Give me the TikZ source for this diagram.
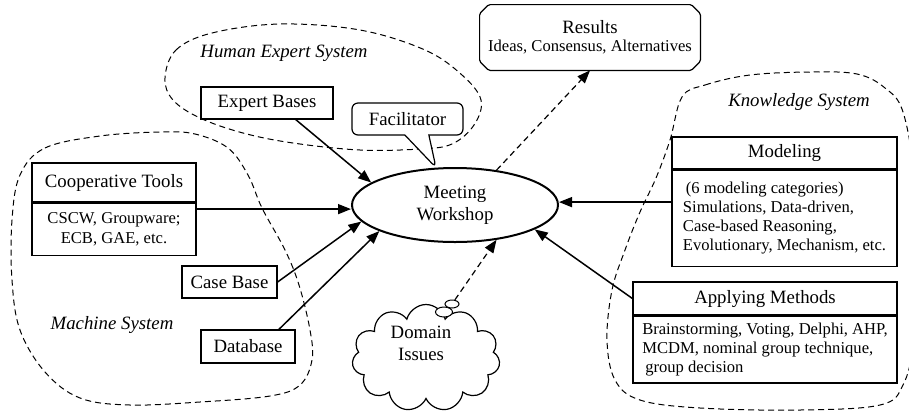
\documentclass[tikz,border=0pt]{standalone}
\usepackage{fontspec}
\setmainfont{Liberation Serif}
\usetikzlibrary{positioning,calc,arrows.meta,shapes.geometric,shapes.callouts,shapes.symbols}

\newcommand{\TitleFont}{\rmfamily\fontsize{9.4}{11}\selectfont}
\newcommand{\BodyFont}{\rmfamily\fontsize{8.3}{9.6}\selectfont}

\tikzstyle{TitleBox}=[rectangle, draw, fill=white, line width=0.6pt, font=\TitleFont, align=center]
\tikzstyle{BodyBox}=[rectangle, draw, fill=white, line width=0.6pt, font=\BodyFont, align=left]
\tikzstyle{MeetingNode}=[ellipse, draw, fill=white, line width=1pt, font=\TitleFont, align=center, minimum width=103pt, minimum height=37pt, inner sep=0pt]
\tikzstyle{SystemLabel}=[font=\TitleFont\itshape]
\tikzstyle{SystemLine}=[dash pattern=on 3pt off 2pt, line width=0.5pt]
\tikzstyle{Flecha}=[-{Triangle[length=6.5pt,width=5pt]}, line width=0.75pt]
\tikzstyle{FlechaDashed}=[Flecha, dash pattern=on 3pt off 2pt, line width=0.6pt]

\begin{document}
\begin{tikzpicture}[x=0.5pt, y=-0.5pt]
			\useasboundingbox (0,0) rectangle (909,414);

			%Sistemas
			\draw[SystemLine] plot[smooth cycle, tension=0.6] coordinates {(165,78) (176,50) (212,33) (280,24) (360,30) (425,50) (462,75) (481,100) (474,125) (452,144) (420,149) (360,150) (293,143) (243,133) (200,118) (173,100)};
			\draw[SystemLine] plot[smooth cycle, tension=0.6] coordinates {(20,175) (45,148) (100,136) (160,132) (195,134) (228,148) (248,175) (262,208) (285,250) (299,285) (310,330) (312,360) (300,385) (270,396) (200,402) (130,405) (80,398) (45,372) (20,330) (12,280) (12,220)};
			\draw[SystemLine] plot[smooth cycle, tension=0.6] coordinates {(682,97) (705,85) (750,75) (810,72) (857,74) (885,88) (903,112) (915,180) (918,260) (914,340) (903,385) (880,405) (800,410) (700,408) (640,400) (615,380) (607,340) (612,290) (625,250) (640,212) (656,178) (670,140)};

			\node[SystemLabel]	(hes_lbl)		at (284,53)		{Human Expert System};
			\node[SystemLabel]	(ms_lbl)		at (112,325)	{Machine System};
			\node[SystemLabel]	(ks_lbl)		at (799,102)	{Knowledge System};

			%Nodos
			\node[MeetingNode]	(mw)			at (455,205)	{Meeting\\Workshop};

			\node[minimum width=110pt, minimum height=32.5pt, align=center, font=\rmfamily\fontsize{8.3}{8.8}\selectfont]
								(results)		at (590,37.5)	{{\TitleFont Results}\\Ideas, Consensus, Alternatives};
			\draw[line width=0.6pt, rounded corners=0.8pt] ([xshift=4.5pt]results.north west) -- ([xshift=-4.5pt]results.north east) -- ([yshift=-4.5pt]results.north east) -- ([yshift=4.5pt]results.south east) -- ([xshift=-4.5pt]results.south east) -- ([xshift=4.5pt]results.south west) -- ([yshift=4.5pt]results.south west) -- ([yshift=-4.5pt]results.north west) -- cycle;

			\node[TitleBox, minimum width=66pt, minimum height=16pt]		(eb)	at (267,103)	{Expert Bases};
			\node[rectangle callout, draw, fill=white, rounded corners=3pt, line width=0.6pt, font=\TitleFont, align=center, minimum width=55.5pt, minimum height=16pt, callout absolute pointer={(mw.117)}, callout pointer width=12pt]
								(fac)			at (407.5,119)	{Facilitator};

			\node[TitleBox, minimum width=82pt, minimum height=19.5pt]	(coop)	at (114,182.5)	{Cooperative Tools};
			\node[BodyBox, align=center, minimum width=82pt, minimum height=26pt]	(coop_body)	[below=0pt of coop]	{CSCW, Groupware;\\ECB, GAE, etc.};

			\node[TitleBox, minimum width=47.5pt, minimum height=16pt]	(cb)	at (229.5,282)	{Case Base};
			\node[TitleBox, minimum width=47pt, minimum height=16.5pt]	(db)	at (248,346.5)	{Database};

			\node[TitleBox, minimum width=112.5pt, minimum height=16pt]	(model)	at (784.5,153)	{Modeling};
			\node[BodyBox, minimum width=112.5pt, minimum height=48pt]	(model_body)	[below=0pt of model]	{\hspace{1.5pt}(6 modeling categories)\\Simulations, Data-driven,\\Case-based Reasoning,\\Evolutionary, Mechanism, etc.};

			\node[TitleBox, minimum width=132pt, minimum height=16.5pt]	(apply)	at (765,298.5)	{Applying Methods};
			\node[BodyBox, minimum width=132pt, minimum height=32.5pt]	(apply_body)	[below=0pt of apply]	{Brainstorming, Voting, Delphi, AHP,\\MCDM, nominal group technique,\\\hspace{1.5pt}group decision};

			\node[cloud, draw, fill=white, line width=0.6pt, cloud puffs=11, aspect=1.4, minimum width=74pt, minimum height=53.5pt]	(domain)	at (426,358)	{};
			\node[font=\TitleFont, align=center]	(domain_txt)	at (421,343)	{Domain\\Issues};
			\node[ellipse, draw, fill=white, line width=0.5pt, minimum width=8.5pt, minimum height=5pt, inner sep=0pt]	(bub_big)	at (444,312)	{};
			\node[ellipse, draw, fill=white, line width=0.5pt, minimum width=7pt, minimum height=4pt, inner sep=0pt]	(bub_small)	at (452,304)	{};

			\coordinate (coop_mid)	at ($(coop.north east)!0.5!(coop_body.south east)$);
			\coordinate (model_mid)	at ($(model.north west)!0.5!(model_body.south west)+(0,0.5)$);

			%Lineas
			\draw[Flecha] (eb.-30) -- (mw.165);
			\draw[Flecha] (coop_mid) -- (coop_mid -| mw.west);
			\draw[Flecha] (cb.east) -- (mw.190);
			\draw[Flecha] (db.29) -- (mw.199);
			\draw[Flecha] (model_mid) -- (model_mid -| mw.east);
			\draw[Flecha] (apply.west) -- (mw.-17);
			\draw[FlechaDashed] (bub_small) -- (mw.-40);
			\draw[FlechaDashed] (mw.40) -- (results.south);

		\end{tikzpicture}
\end{document}
